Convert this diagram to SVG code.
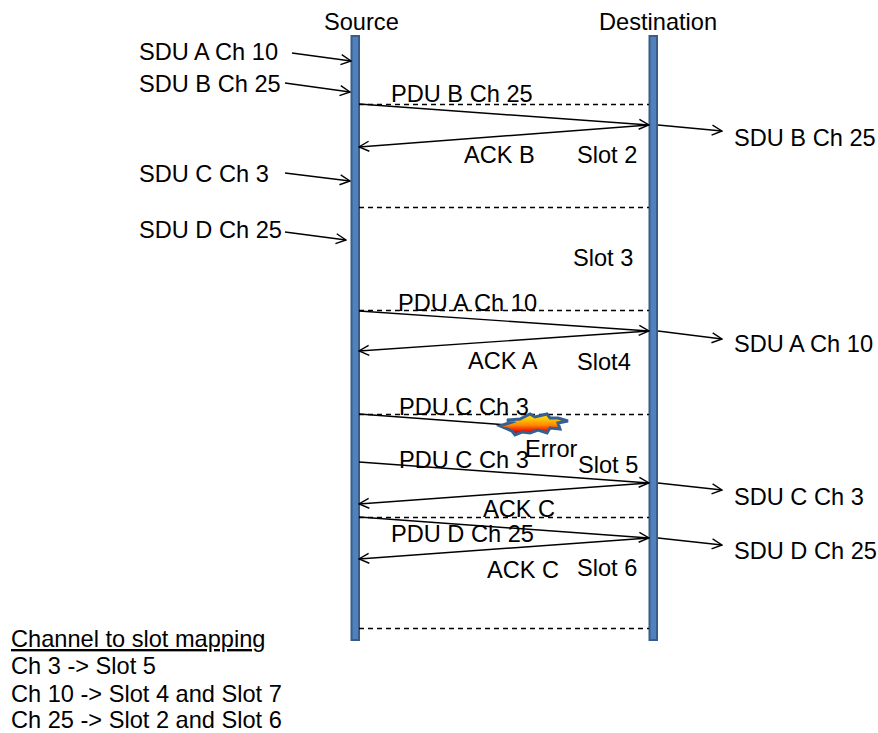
<svg xmlns="http://www.w3.org/2000/svg" width="878" height="733" viewBox="0 0 878 733">
<style>
text{font-family:"Liberation Sans",Arial,sans-serif;font-size:23.6px;fill:#000}
.bar{fill:#4f81bd;stroke:#385d8a;stroke-width:2}
.c{fill:none;stroke:#000;stroke-width:1.4;marker-end:url(#a)}
.n{fill:none;stroke:#000;stroke-width:1.4}
.d{fill:none;stroke:#000;stroke-width:1.3;stroke-dasharray:5 4}
</style>
<defs>
<marker id="a" viewBox="0 0 12 12" refX="11" refY="6" markerWidth="12" markerHeight="12" markerUnits="userSpaceOnUse" orient="auto"><path d="M1 1L11 6L1 11" fill="none" stroke="#000" stroke-width="1.4"/></marker>
<linearGradient id="g" x1="0" y1="0.2" x2="0" y2="0.85"><stop offset="0" stop-color="#ffd000"/><stop offset="0.5" stop-color="#ff8a00"/><stop offset="1" stop-color="#f00000"/></linearGradient>
</defs>
<rect width="878" height="733" fill="#fff"/>
<g id="source"><rect class="bar" x="351.500" y="36" width="7.500" height="604"/><text x="324" y="30">Source</text></g>
<g id="destination"><rect class="bar" x="649.500" y="36" width="7.500" height="604"/><text x="599" y="30">Destination</text></g>
<g id="connectors">
<path class="d" d="M359 104.500H649M359 207.500H649M359 310.500H649M359 414.500H649M359 517.500H649M359 628.500H649"/>
<path class="c" d="M292 53L351 61"/>
<path class="c" d="M285 83L350 92"/>
<path class="c" d="M285 173L350 181"/>
<path class="c" d="M285 232L346 240"/>
<path class="c" d="M359 104L649 125"/>
<path class="c" d="M649 125L359 147"/>
<path class="c" d="M658 125L722 131"/>
<path class="c" d="M359 311L649 331"/>
<path class="c" d="M649 331L359 351"/>
<path class="c" d="M658 331L722 339"/>
<path class="n" d="M359 414L508 425"/>
<path class="c" d="M359 462L649 483"/>
<path class="c" d="M649 483L359 504"/>
<path class="c" d="M658 483L722 490"/>
<path class="c" d="M359 517L649 538"/>
<path class="c" d="M649 538L359 559"/>
<path class="c" d="M658 538L722 545"/>
</g>
<g id="error-burst"><path d="M500 426L512 422L507 420L520 419L530 414L535 417L547 414L550 418L558 418L568 421L558 423L560 429L550 428L547 433L538 430L530 433L522 432L515 435L512 431Z" fill="url(#g)" stroke="#376092" stroke-width="3"/></g>
<g id="labels">
<text x="139" y="60">SDU A Ch 10</text>
<text x="139" y="92">SDU B Ch 25</text>
<text x="139" y="182">SDU C Ch 3</text>
<text x="139" y="238">SDU D Ch 25</text>
<text x="391" y="102">PDU B Ch 25</text>
<text x="464" y="163">ACK B</text>
<text x="577" y="163">Slot 2</text>
<text x="734" y="146">SDU B Ch 25</text>
<text x="573" y="266">Slot 3</text>
<text x="398" y="311">PDU A Ch 10</text>
<text x="468" y="369">ACK A</text>
<text x="577" y="370">Slot4</text>
<text x="734" y="352">SDU A Ch 10</text>
<text x="399" y="415">PDU C Ch 3</text>
<text x="525" y="457">Error</text>
<text x="399" y="468">PDU C Ch 3</text>
<text x="578" y="473">Slot 5</text>
<text x="734" y="505">SDU C Ch 3</text>
<text x="483" y="517">ACK C</text>
<text x="391" y="542">PDU D Ch 25</text>
<text x="734" y="559">SDU D Ch 25</text>
<text x="487" y="578">ACK C</text>
<text x="577" y="576">Slot 6</text>
<text x="11" y="647" text-decoration="underline">Channel to slot mapping</text>
<text x="11" y="674">Ch 3 -&gt; Slot 5</text>
<text x="11" y="702">Ch 10 -&gt; Slot 4 and Slot 7</text>
<text x="11" y="728">Ch 25 -&gt; Slot 2 and Slot 6</text>
</g>
</svg>
